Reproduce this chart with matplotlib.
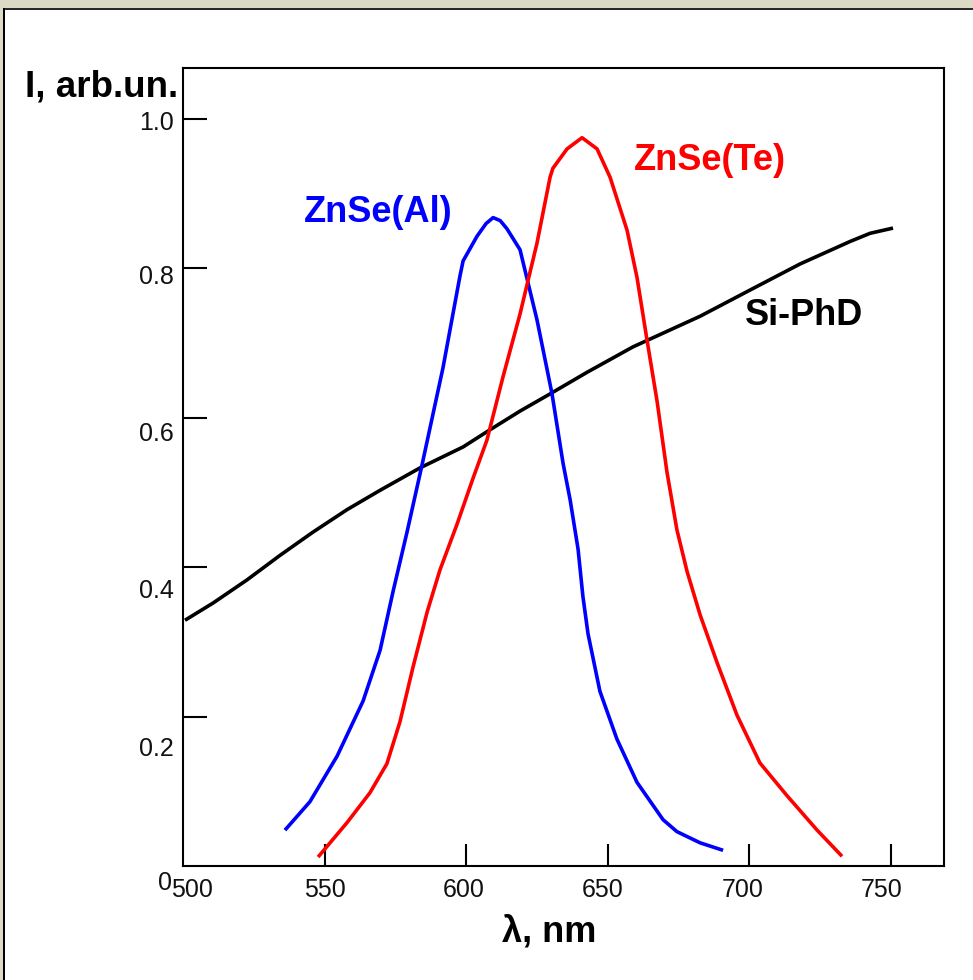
import matplotlib
matplotlib.use("Agg")
import matplotlib.pyplot as plt
from matplotlib.patches import Rectangle

plt.rcParams['font.family'] = ['Liberation Sans', 'DejaVu Sans']

# ---------------- data ----------------
si_x = [500.7, 510.6, 522.6, 534.3, 545.9, 557.9, 569.6, 583.7, 598.9, 608.4, 619.0,
        629.6, 642.7, 658.9, 682.6, 700.2, 717.9, 735.5, 742.6, 750.7]
si_y = [0.329, 0.352, 0.383, 0.416, 0.447, 0.477, 0.503, 0.533, 0.561, 0.584, 0.609,
        0.632, 0.661, 0.695, 0.736, 0.771, 0.806, 0.836, 0.847, 0.854]

al_x = [536.0, 544.8, 554.4, 563.6, 569.6, 574.2, 579.1, 584.4, 591.8, 597.8, 598.9,
        603.8, 607.0, 609.5, 612.0, 614.4, 619.0, 625.0, 630.3, 634.2, 636.7, 639.5,
        641.2, 643.0, 647.2, 653.2, 660.3, 669.5, 674.4, 682.6, 690.7]
al_y = [0.048, 0.086, 0.147, 0.221, 0.289, 0.368, 0.447, 0.537, 0.667, 0.790, 0.810,
        0.843, 0.860, 0.868, 0.864, 0.853, 0.825, 0.731, 0.632, 0.539, 0.490, 0.424,
        0.361, 0.311, 0.234, 0.170, 0.112, 0.062, 0.046, 0.031, 0.021]

te_x = [547.7, 557.9, 566.0, 572.0, 576.6, 581.2, 586.2, 590.7, 596.8, 602.4, 607.3,
        613.0, 619.0, 625.0, 629.6, 630.6, 635.6, 640.9, 646.2, 650.8, 656.8, 660.3,
        663.8, 667.4, 670.9, 674.4, 678.0, 682.6, 688.6, 695.6, 703.7, 713.3, 723.9, 732.7]
te_y = [0.012, 0.058, 0.098, 0.137, 0.193, 0.266, 0.340, 0.396, 0.458, 0.519, 0.570,
        0.655, 0.739, 0.834, 0.922, 0.934, 0.960, 0.975, 0.960, 0.922, 0.851, 0.788,
        0.705, 0.622, 0.527, 0.450, 0.394, 0.336, 0.272, 0.202, 0.138, 0.094, 0.048, 0.013]

xtick_vals = [550, 600, 650, 700, 750]
xtick_labels = ['500', '550', '600', '650', '700', '750']
ytick_vals = [0.2, 0.4, 0.6, 0.8, 1.0]
ytick_labels = ['0', '0.2', '0.4', '0.6', '0.8', '1.0']

# ---------------- layout ----------------
W, H = 973, 980
fig = plt.figure(figsize=(W / 100, H / 100), dpi=100)
fig.patch.set_facecolor('white')

def P(px, py):
    return px / W, 1 - py / H

# frame decoration
beige = '#DCDAC6'
fig.patches.append(Rectangle((0, 1 - 8 / H), 1, 8 / H, transform=fig.transFigure,
                             facecolor=beige, edgecolor='none', zorder=0))
fig.patches.append(Rectangle((0, 0), 3 / W, 1, transform=fig.transFigure,
                             facecolor=beige, edgecolor='none', zorder=0))
fig.patches.append(Rectangle((3 / W, 1 - 10.5 / H), 1, 2.5 / H, transform=fig.transFigure,
                             facecolor='#2a2a2a', edgecolor='none', zorder=0))
fig.patches.append(Rectangle((3 / W, 0), 2.2 / W, 1 - 8 / H, transform=fig.transFigure,
                             facecolor='black', edgecolor='none', zorder=0))

ax_left, ax_right, ax_top, ax_bot = 183, 944, 68, 866
ax = fig.add_axes([ax_left / W, 1 - ax_bot / H, (ax_right - ax_left) / W, (ax_bot - ax_top) / H])
ax.set_facecolor('white')

ax.plot(si_x, si_y, color='black', lw=2.6, solid_joinstyle='round', solid_capstyle='butt')
ax.plot(al_x, al_y, color='#0000FF', lw=2.6, solid_joinstyle='round', solid_capstyle='butt')
ax.plot(te_x, te_y, color='#FF0000', lw=2.6, solid_joinstyle='round', solid_capstyle='butt')

ax.set_xlim(500, 768.7)
ax.set_ylim(0, 1.0683)

for s in ax.spines.values():
    s.set_linewidth(1.5)
    s.set_color('black')

ax.set_xticks(xtick_vals)
ax.set_yticks(ytick_vals)
ax.tick_params(axis='x', direction='in', length=16, width=1.5, labelbottom=False)
ax.tick_params(axis='y', direction='in', length=17.5, width=1.5, labelleft=False)

# tick labels (slightly offset from ticks, as in the original drawing)
x_label_px = [192, 324.5, 463.5, 602.5, 742.5, 882]
for lab, px in zip(xtick_labels, x_label_px):
    fx, fy = P(px, 897)
    fig.text(fx, fy, lab, ha='center', va='baseline', fontsize=18, color='#111111')

y_label_py = [890, 756, 598, 441, 284, 130]
for lab, py in zip(ytick_labels, y_label_py):
    px = 174 if lab != '0' else 172
    fx, fy = P(px, py)
    fig.text(fx, fy, lab, ha='right', va='baseline', fontsize=18, color='#111111')

# axis titles
fig.text(*P(25, 96), 'I, arb.un.', ha='left', va='baseline', fontsize=26.5, fontweight='bold')
fig.text(*P(502, 941), 'λ, nm', ha='left', va='baseline', fontsize=26, fontweight='bold')

# curve labels
fig.text(*P(304, 222), 'ZnSe(Al)', ha='left', va='baseline', fontsize=26, fontweight='bold', color='#0000FF')
fig.text(*P(634, 170), 'ZnSe(Te)', ha='left', va='baseline', fontsize=26, fontweight='bold', color='#FF0000')
fig.text(*P(745, 325), 'Si-PhD', ha='left', va='baseline', fontsize=26, fontweight='bold', color='black')

fig.savefig('out.png', dpi=100, facecolor=fig.get_facecolor())
